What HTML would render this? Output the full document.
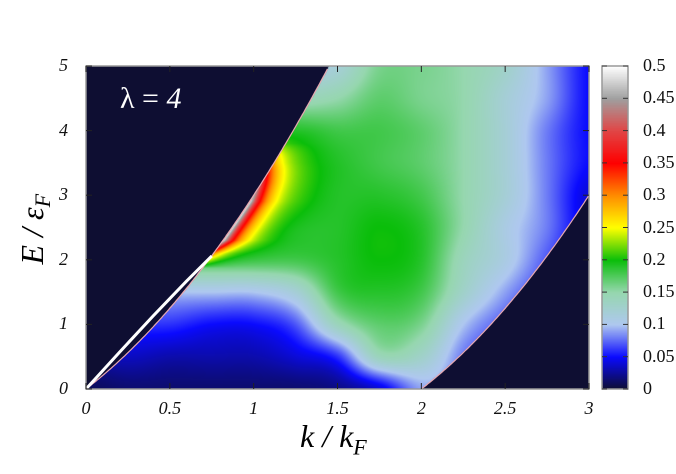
<!DOCTYPE html>
<html><head><meta charset="utf-8">
<style>
html,body{margin:0;padding:0;background:#fff;}
#wrap{position:relative;width:676px;height:474px;overflow:hidden;font-family:"Liberation Serif",serif;}
canvas{position:absolute;}
.t{position:absolute;font-style:italic;font-size:18px;color:#111;}
.c{position:absolute;font-size:18px;color:#111;}
</style></head>
<body>
<div id="wrap">
<canvas id="hm" width="503" height="323" style="left:86px;top:66px;"></canvas>
<canvas id="cb" width="26" height="323" style="left:602px;top:66px;"></canvas>
<svg id="ov" width="676" height="474" style="position:absolute;left:0;top:0;"></svg>
<div style="position:absolute;left:120px;top:82px;color:#fff;font-size:30px;font-family:'Liberation Serif',serif;">λ = <i>4</i></div>
<div style="position:absolute;left:300px;top:418px;font-size:32px;font-style:italic;">k / k<sub style="font-size:22px;">F</sub></div>
<div style="position:absolute;left:-30px;top:208px;width:130px;text-align:center;font-size:32px;font-style:italic;transform:rotate(-90deg);">E / ε<sub style="font-size:22px;">F</sub></div>
</div>
<script>
// grid: rows E = 0..5 step 0.5, cols k = 0..3 step 0.25
const gridK=[0,0.25,0.5,0.75,1,1.25,1.5,1.75,2,2.25,2.5,2.75,3];
const gridE=[0,0.5,1,1.5,2,2.5,3,3.5,4,4.5,5];
const row0=[0.01,0.015,0.015,0.015,0.015,0.015,0.02,0.04,0.09,0.08,0.06,0.05,0.04];
const row1=[0.03,0.035,0.03,0.03,0.03,0.04,0.06,0.14,0.13,0.08,0.06,0.05,0.04];
const row2=[0.06,0.06,0.06,0.05,0.05,0.07,0.14,0.17,0.16,0.10,0.07,0.05,0.04];
const row3=[0.10,0.10,0.10,0.10,0.10,0.12,0.18,0.19,0.18,0.13,0.09,0.06,0.04];
const row4=[0.18,0.18,0.18,0.18,0.18,0.18,0.19,0.20,0.19,0.14,0.11,0.07,0.04];
const row5=[0.20,0.20,0.20,0.20,0.20,0.19,0.19,0.20,0.19,0.15,0.11,0.08,0.04];
const row6=[0.20,0.20,0.20,0.20,0.20,0.20,0.19,0.19,0.18,0.15,0.12,0.08,0.04];
const row7=[0.20,0.20,0.20,0.20,0.20,0.20,0.19,0.18,0.17,0.15,0.12,0.08,0.05];
const row8=[0.19,0.19,0.19,0.19,0.19,0.19,0.18,0.18,0.17,0.15,0.12,0.08,0.05];
const row9=[0.14,0.14,0.14,0.14,0.14,0.14,0.15,0.17,0.16,0.15,0.12,0.09,0.05];
const row10=[0.11,0.11,0.11,0.11,0.11,0.11,0.12,0.16,0.16,0.15,0.13,0.09,0.05];
const rows=[row0,row1,row2,row3,row4,row5,row6,row7,row8,row9,row10];
// ridge along upper continuum edge
const ridgeE=[1.7,1.9,2.1,2.3,2.6,2.9,3.2,3.5,3.8,4.1,4.4];
const ridgeAmp=[0,0.19,0.3,0.5,0.5,0.5,0.4,0.29,0.21,0.18,0];
// collective mode (white line)
const modeK=[0,0.2,0.4,0.6,0.75];
const modeE=[0,0.57,1.13,1.67,2.06];
const cbTicks=[0,0.05,0.1,0.15,0.2,0.25,0.3,0.35,0.4,0.45,0.5];
const xTicks=[0,0.5,1,1.5,2,2.5,3];
const yTicks=[0,1,2,3,4,5];

const X0=86,X1=589,Y0=389,Y1=66;
const xs=k=>X0+(k-0)/3*(X1-X0);
const ys=e=>Y0-(e/5)*(Y0-Y1);
const cstops=[[0,[14,14,50]],[0.05,[10,10,255]],[0.1,[175,200,240]],[0.15,[150,215,175]],[0.2,[10,190,10]],[0.25,[255,255,0]],[0.3,[255,140,0]],[0.35,[255,0,0]],[0.4,[225,70,70]],[0.45,[160,160,160]],[0.5,[255,255,255]]];
function cmap(v){v=Math.max(0,Math.min(0.5,v));for(let i=1;i<cstops.length;i++){if(v<=cstops[i][0]){const a=cstops[i-1],b=cstops[i],t=(v-a[0])/(b[0]-a[0]);return a[1].map((c,j)=>c+(b[1][j]-c)*t);}}return cstops[cstops.length-1][1];}
function lerpArr(xa,ya,x){if(x<=xa[0])return ya[0];for(let i=1;i<xa.length;i++){if(x<=xa[i]){const t=(x-xa[i-1])/(xa[i]-xa[i-1]);return ya[i-1]+(ya[i]-ya[i-1])*t;}}return ya[ya.length-1];}
function cr(p0,p1,p2,p3,t){return 0.5*((2*p1)+(-p0+p2)*t+(2*p0-5*p1+4*p2-p3)*t*t+(-p0+3*p1-3*p2+p3)*t*t*t);}
function g(j,i){j=Math.max(0,Math.min(rows.length-1,j));i=Math.max(0,Math.min(gridK.length-1,i));return rows[j][i];}
function grid(k,e){const fk=Math.min(gridK.length-1.001,k/0.25),fe=Math.min(gridE.length-1.001,e/0.5);const i=Math.floor(fk),j=Math.floor(fe),tx=fk-i,ty=fe-j;
const r=[-1,0,1,2].map(dj=>cr(g(j+dj,i-1),g(j+dj,i),g(j+dj,i+1),g(j+dj,i+2),tx));return cr(r[0],r[1],r[2],r[3],ty);}
const up=k=>k*k+2*k, lo=k=>k*k-2*k;
const kb=e=>-1+Math.sqrt(1+e);
(function(){const cv=document.getElementById('hm'),ctx=cv.getContext('2d');const W=cv.width,H=cv.height;const img=ctx.createImageData(W,H);
for(let py=0;py<H;py++){const e=(H-0.5-py)/H*5;for(let px=0;px<W;px++){const k=(px+0.5)/W*3;let col;
if(e>up(k)||e<lo(k)){col=[14,14,50];}else{let v=grid(k,e);const amp=lerpArr(ridgeE,ridgeAmp,e);if(amp>v){const dk=k-kb(e);v=v+(amp-v)*Math.exp(-dk/0.09);}
col=cmap(v);}
const o=(py*W+px)*4;img.data[o]=col[0];img.data[o+1]=col[1];img.data[o+2]=col[2];img.data[o+3]=255;}}
ctx.putImageData(img,0,0);
const cb=document.getElementById('cb'),c2=cb.getContext('2d');for(let py=0;py<cb.height;py++){const v=(cb.height-py)/cb.height*0.5;const c=cmap(v);c2.fillStyle='rgb('+c.map(Math.round).join(',')+')';c2.fillRect(0,py,cb.width,1);}})();
const NS='http://www.w3.org/2000/svg',svg=document.getElementById('ov');
function mk(t,a){const e=document.createElementNS(NS,t);for(const k in a)e.setAttribute(k,a[k]);svg.appendChild(e);return e;}
let d='';for(let k=0;k<=1.46;k+=0.01){const e=up(k);if(e>5)break;d+=(d?'L':'M')+xs(k).toFixed(1)+','+ys(e).toFixed(1);}
let p=mk('path',{d:d,fill:'none',stroke:'#e8a8b0','stroke-width':1.2});


d='';for(let k=2;k<=3.001;k+=0.01){d+=(d?'L':'M')+xs(k).toFixed(1)+','+ys(lo(k)).toFixed(1);}
p=mk('path',{d:d,fill:'none',stroke:'#e8a8b0','stroke-width':1.2});


d=modeK.map((k,i)=>(i?'L':'M')+xs(k).toFixed(1)+','+ys(modeE[i]).toFixed(1)).join('');
p=mk('path',{d:d,fill:'none',stroke:'#fff','stroke-width':3});


let r=mk('rect',{x:X0,y:Y1,width:X1-X0,height:Y0-Y1,fill:'none',stroke:'#999','stroke-width':1.5});


r=mk('rect',{x:602,y:Y1,width:26,height:Y0-Y1,fill:'none',stroke:'#999','stroke-width':1.5});


const wrap=document.getElementById('wrap');
xTicks.forEach(k=>{const x=xs(k);mk('line',{x1:x,y1:Y0,x2:x,y2:Y0-6,stroke:'#222'});mk('line',{x1:x,y1:Y1,x2:x,y2:Y1+6,stroke:'#222'});
const t=document.createElement('div');t.className='t';t.textContent=k;t.style.left=(x-15)+'px';t.style.width='30px';t.style.textAlign='center';t.style.top='398px';


wrap.appendChild(t);});
yTicks.forEach(e=>{const y=ys(e);mk('line',{x1:X0,y1:y,x2:X0+6,y2:y,stroke:'#222'});mk('line',{x1:X1,y1:y,x2:X1-6,y2:y,stroke:'#222'});
const t=document.createElement('div');t.className='t';t.textContent=e;t.style.left='50px';t.style.width='18px';t.style.textAlign='right';t.style.top=(y-11)+'px';


wrap.appendChild(t);});
cbTicks.forEach(v=>{const y=Y0-v/0.5*(Y0-Y1);mk('line',{x1:602,y1:y,x2:607,y2:y,stroke:'#333'});mk('line',{x1:628,y1:y,x2:623,y2:y,stroke:'#333'});
const t=document.createElement('div');t.className='c';t.textContent=v;t.style.left='643px';t.style.top=(y-11)+'px';


wrap.appendChild(t);});
</script>
</body></html>
